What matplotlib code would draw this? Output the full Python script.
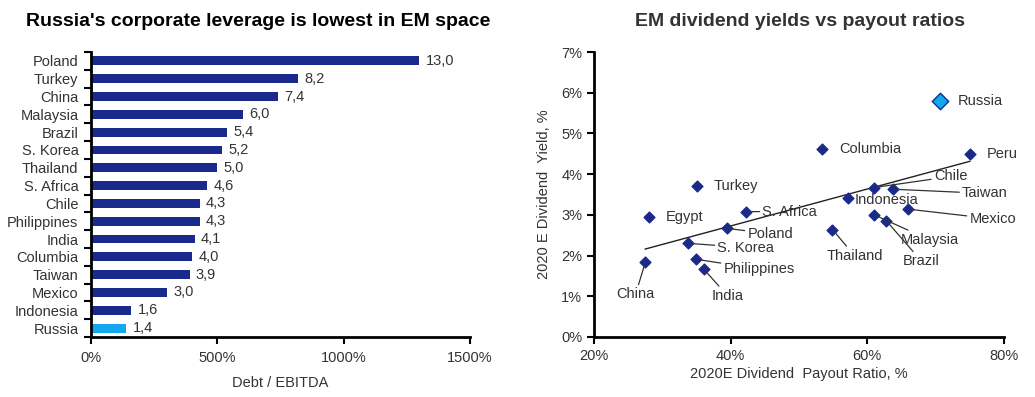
import numpy as np
import matplotlib
matplotlib.use('Agg')
from matplotlib import pyplot as plt
from matplotlib.ticker import FuncFormatter

plt.rcParams['font.family'] = ['Liberation Sans', 'DejaVu Sans']

# left chart: debt / ebitda
lev_countries = ['Poland', 'Turkey', 'China', 'Malaysia', 'Brazil', 'S. Korea', 'Thailand',
                 'S. Africa', 'Chile', 'Philippines', 'India', 'Columbia', 'Taiwan', 'Mexico',
                 'Indonesia', 'Russia']
lev_values = [13.0, 8.2, 7.4, 6.0, 5.4, 5.2, 5.0, 4.6, 4.3, 4.3, 4.1, 4.0, 3.9, 3.0, 1.6, 1.4]

# right chart: payout ratio vs dividend yield
sc_countries = ['Russia', 'Columbia', 'Peru', 'Turkey', 'Chile', 'Taiwan', 'Indonesia',
                'S. Africa', 'Egypt', 'Mexico', 'Malaysia', 'Brazil', 'Poland', 'Thailand',
                'S. Korea', 'Philippines', 'India', 'China']
payout = [0.706, 0.533, 0.750, 0.351, 0.610, 0.637, 0.571, 0.422, 0.281, 0.660, 0.610,
          0.628, 0.394, 0.549, 0.338, 0.349, 0.361, 0.275]
div_yield = [0.058, 0.0462, 0.045, 0.0371, 0.0367, 0.0363, 0.0341, 0.0308, 0.0295, 0.0314,
             0.030, 0.0285, 0.0267, 0.0264, 0.0230, 0.0191, 0.0166, 0.0183]

navy = '#1A2A8C'
light = '#12A8F0'
txt = '#333333'

fig = plt.figure(figsize=(10.35, 3.97), dpi=100)

# ---- left: bars
ax1 = fig.add_axes([91 / 1035, 1 - 337 / 397, (470 - 91) / 1035, (337 - 52) / 397])
n = len(lev_countries)
ypos = np.arange(n)[::-1]
cols = [light if c == 'Russia' else navy for c in lev_countries]
vals = [v * 100 for v in lev_values]
ax1.barh(ypos, vals, height=0.5, color=cols)
for y, v, lab in zip(ypos, vals, lev_values):
    ax1.text(v + 25, y, ('%.1f' % lab).replace('.', ','), va='center', ha='left',
             fontsize=10.5, color=txt)
ax1.set_xlim(0, 1500)
ax1.set_ylim(-0.5, n - 0.5)
ax1.set_xticks([0, 500, 1000, 1500])
ax1.xaxis.set_major_formatter(FuncFormatter(lambda x, p: '%d%%' % x))
ax1.set_yticks(ypos)
ax1.set_yticklabels(lev_countries)
ax1.set_yticks(np.arange(n + 1) - 0.5, minor=True)
ax1.tick_params(axis='y', which='major', length=0, pad=9, labelsize=10.5, labelcolor=txt)
ax1.tick_params(axis='y', which='minor', length=5, width=1.5, direction='out')
ax1.tick_params(axis='x', length=5, width=1.5, direction='out', pad=5, labelsize=10.5,
                labelcolor=txt)
for s in ['top', 'right']:
    ax1.spines[s].set_visible(False)
for s in ['left', 'bottom']:
    ax1.spines[s].set_linewidth(2)
ax1.set_xlabel('Debt / EBITDA', fontsize=10.5, color=txt, labelpad=8)
fig.text(258 / 1035, 1 - 22 / 397, "Russia's corporate leverage is lowest in EM space",
         ha='center', va='center', fontsize=14, fontweight='bold', color='black')

# ---- right: scatter
ax2 = fig.add_axes([594 / 1035, 1 - 337 / 397, (1004 - 594) / 1035, (337 - 52) / 397])
px = np.array(payout)
py = np.array(div_yield)
for c, x, y in zip(sc_countries, px, py):
    if c == 'Russia':
        ax2.scatter(x, y, marker='D', s=70, color=light, edgecolor=navy, linewidth=1, zorder=3)
    else:
        ax2.scatter(x, y, marker='D', s=30, color=navy, zorder=3)

# linear trend over all points
k, b = np.polyfit(px, py, 1)
xl = np.array([px.min(), px.max()])
ax2.plot(xl, k * xl + b, color='#222222', lw=1, zorder=2)

# label offsets in points (dx, dy) and whether a leader line is drawn
lab_off = {
    'Russia': (13, 0, False), 'Columbia': (13, 0, False), 'Peru': (12, 0, False),
    'Turkey': (12, 0, False), 'Chile': (43, 8, True), 'Taiwan': (50, -3, True),
    'Indonesia': (5, -1, False), 'S. Africa': (12, 0, True), 'Egypt': (12, 0, False),
    'Mexico': (44, -7, True), 'Malaysia': (19, -18, True), 'Brazil': (12, -29, True),
    'Poland': (15, -4, True), 'Thailand': (16, -14, True), 'S. Korea': (21, -3, True),
    'Philippines': (20, -7, True), 'India': (17, -14, True), 'China': (-7, -18, True),
}
for c, x, y in zip(sc_countries, px, py):
    dx, dy, lead = lab_off[c]
    ha = 'left'
    va = 'center'
    if c in ('India', 'China', 'Thailand'):
        ha = 'center'
        va = 'top'
    ap = dict(arrowstyle='-', color='#333333', lw=0.9, shrinkA=0, shrinkB=1) if lead else None
    ax2.annotate(c, (x, y), xytext=(dx, dy), textcoords='offset points', ha=ha, va=va,
                 fontsize=10.5, color=txt, arrowprops=ap)

ax2.set_xlim(0.2, 0.8)
ax2.set_ylim(0, 0.07)
ax2.set_xticks([0.2, 0.4, 0.6, 0.8])
ax2.set_yticks(np.arange(0, 0.071, 0.01))
ax2.xaxis.set_major_formatter(FuncFormatter(lambda x, p: '%d%%' % round(x * 100)))
ax2.yaxis.set_major_formatter(FuncFormatter(lambda x, p: '%d%%' % round(x * 100)))
ax2.tick_params(length=5, width=1.5, direction='out', labelsize=10.5, labelcolor=txt)
for s in ['top', 'right']:
    ax2.spines[s].set_visible(False)
for s in ['left', 'bottom']:
    ax2.spines[s].set_linewidth(2)
ax2.set_xlabel('2020E Dividend  Payout Ratio, %', fontsize=10.5, color=txt, labelpad=3)
ax2.set_ylabel('2020 E Dividend  Yield, %', fontsize=10.5, color=txt, labelpad=7)
fig.text(800 / 1035, 1 - 22 / 397, 'EM dividend yields vs payout ratios',
         ha='center', va='center', fontsize=14, fontweight='bold', color='#333333')

fig.savefig('out.png', dpi=100)
